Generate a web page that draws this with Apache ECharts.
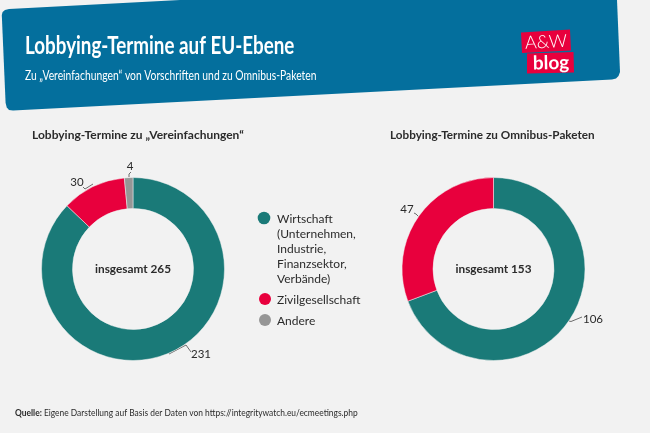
<!DOCTYPE html>
<html>
<head>
<meta charset="utf-8">
<style>
html, body { margin: 0; padding: 0; background: #f2f2f2; }
#main { width: 650px; height: 433px; }
</style>
<script src="https://cdn.jsdelivr.net/npm/echarts@6/dist/echarts.min.js"></script>
</head>
<body>
<div id="main"></div>
<script>
const categories = ['Wirtschaft', 'Zivilgesellschaft', 'Andere']
const legendLabels = ['Wirtschaft\n(Unternehmen,\nIndustrie,\nFinanzsektor,\nVerbände)', 'Zivilgesellschaft', 'Andere']
const vereinfachungen = [231, 30, 4]
const omnibus = [106, 47]
const totals = [265, 153]

const COLORS = ['#1a7a78', '#e8003d', '#969696']
const BODY_FONT = 'Lato, "Noto Sans", sans-serif'
const INK = '#2b2b2b'

const chart = echarts.init(document.getElementById('main'), null, { renderer: 'canvas' })

function text(x, y, str, font, extra, scaleX) {
    return {
        type: 'text', x, y, scaleX: scaleX || 1, silent: true,
        style: Object.assign({ text: str, fill: INK, font, textVerticalAlign: 'middle' }, extra)
    }
}

function pieSeries(values, cx, labelPlaces) {
    return {
        type: 'pie',
        center: [cx, 269],
        radius: [60.5, 91.5],
        startAngle: 90,
        clockwise: true,
        animation: false,
        silent: true,
        itemStyle: { borderColor: '#f2f2f2', borderWidth: 0.5 },
        data: values.map((v, i) => ({ name: categories[i], value: v, itemStyle: { color: COLORS[i] } })),
        label: { show: true, position: 'outside', formatter: '{c}', color: INK, fontFamily: BODY_FONT, fontSize: 11.5 },
        labelLine: { show: true, length: 9, length2: 8, smooth: false, lineStyle: { color: '#333', width: 0.7 } },
        labelLayout: params => labelPlaces[params.dataIndex]
    }
}

const legendXs = [264, 265, 265]
const legendYs = [218, 299, 320]

chart.setOption({
    backgroundColor: '#f2f2f2',
    series: [
        pieSeries(vereinfachungen, 133, [
            { x: 191, y: 354, align: 'left', verticalAlign: 'middle', labelLinePoints: [[169, 354], [186, 345], [191, 352]] },
            { x: 77, y: 182, align: 'center', verticalAlign: 'middle', labelLinePoints: [[93, 184], [85, 189], [83, 187]] },
            { x: 130, y: 166, align: 'center', verticalAlign: 'middle', labelLinePoints: [[129, 177], [129, 174], [131, 172]] }
        ]),
        pieSeries(omnibus, 493.5, [
            { x: 583, y: 319, align: 'left', verticalAlign: 'middle', labelLinePoints: [[569, 321], [571, 321.5], [582, 317]] },
            { x: 407, y: 209, align: 'center', verticalAlign: 'middle', labelLinePoints: [[418.5, 216.5], [416, 214], [414, 213]] }
        ])
    ],
    graphic: [
        {
            type: 'polygon', silent: true,
            shape: { points: [[1.8, 15], [2.6, 12], [5, 10], [9, 9], [180, 0], [617, 0], [620, 72], [618.5, 76], [616, 78.6], [612, 79.5], [13, 110.5], [9, 110], [6.8, 107.5], [5.6, 103]] },
            style: { fill: '#046f9d' }
        },
        text(25, 46, 'Lobbying-Termine auf EU-Ebene', 'bold 25px ' + BODY_FONT, { fill: '#fff' }, 0.752),
        text(25, 75, 'Zu „Vereinfachungen“ von Vorschriften und zu Omnibus-Paketen', '14px ' + BODY_FONT, { fill: '#fff' }, 0.737),
        { type: 'polygon', silent: true, shape: { points: [[521, 32.5], [570, 29.5], [571, 50.5], [522, 53]] }, style: { fill: '#e8003d' } },
        { type: 'polygon', silent: true, shape: { points: [[527, 53.5], [573.5, 52], [574, 72.5], [527, 73.5]] }, style: { fill: '#e8003d' } },
        { type: 'text', x: 546, y: 42, rotation: 0.05, silent: true, style: { text: 'A&W', fill: '#fff', font: '300 18px ' + BODY_FONT, textAlign: 'center', textVerticalAlign: 'middle' } },
        { type: 'text', x: 551, y: 63, rotation: 0.02, silent: true, style: { text: 'blog', fill: '#fff', font: 'bold 19px ' + BODY_FONT, textAlign: 'center', textVerticalAlign: 'middle' } },
        text(32, 135, 'Lobbying-Termine zu „Vereinfachungen“', 'bold 12px ' + BODY_FONT),
        text(390, 135, 'Lobbying-Termine zu Omnibus-Paketen', 'bold 12px ' + BODY_FONT, {}, 0.976),
        text(133, 269, 'insgesamt ' + totals[0], 'bold 11.8px ' + BODY_FONT, { textAlign: 'center' }),
        text(493.5, 269, 'insgesamt ' + totals[1], 'bold 11.8px ' + BODY_FONT, { textAlign: 'center' }),
        ...legendLabels.flatMap((label, i) => [
            { type: 'circle', silent: true, shape: { cx: legendXs[i], cy: legendYs[i], r: i === 0 ? 6.3 : 6 }, style: { fill: COLORS[i] } },
            { type: 'text', x: 277, y: legendYs[i] - 6.5, silent: true, style: { text: label, fill: INK, font: '12px ' + BODY_FONT, lineHeight: 15, textVerticalAlign: 'top' } }
        ]),
        {
            type: 'text', x: 15, y: 413, scaleX: 0.915, silent: true,
            style: {
                text: '{b|Quelle:} Eigene Darstellung auf Basis der Daten von https://integritywatch.eu/ecmeetings.php',
                fill: INK, font: '9.2px ' + BODY_FONT, textVerticalAlign: 'middle',
                rich: { b: { fontWeight: 'bold', fontSize: 9.2, fontFamily: BODY_FONT, fill: INK } }
            }
        }
    ]
})
</script>
</body>
</html>
